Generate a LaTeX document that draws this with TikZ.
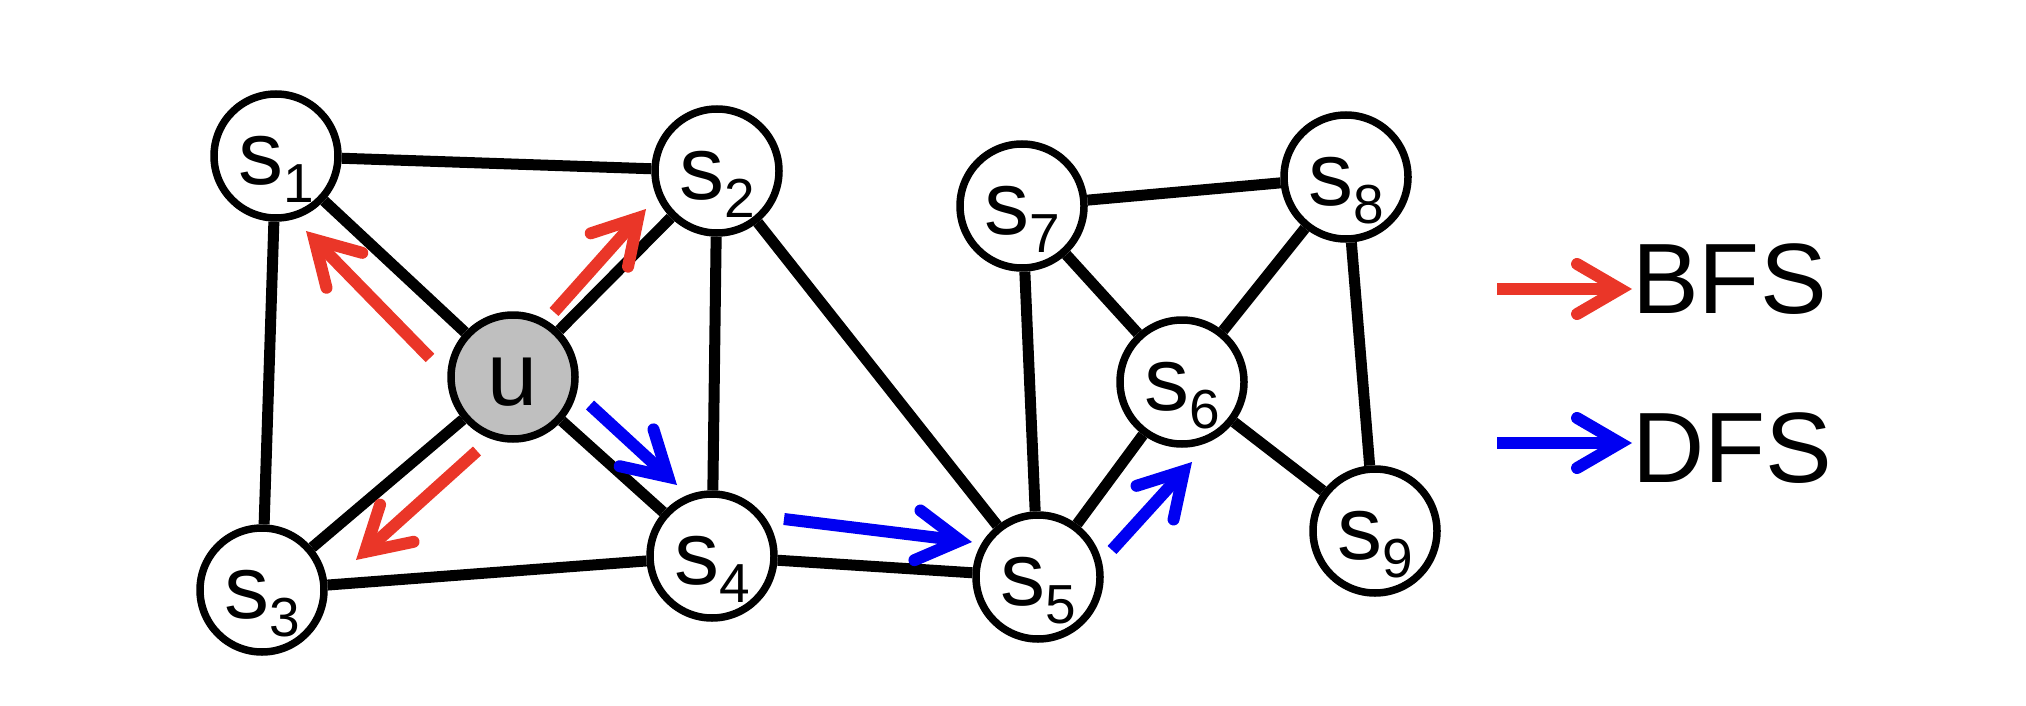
\documentclass[tikz,border=0pt]{standalone}
\usepackage{fontspec}
\setmainfont{Liberation Sans}
\usetikzlibrary{arrows.meta}

\definecolor{bfsred}{RGB}{234,54,40}
\definecolor{dfsblue}{RGB}{0,0,242}
\definecolor{ugray}{RGB}{191,191,191}

% vertex label: letter with a lowered index
\newcommand{\vlab}[2]{#1\raisebox{-18pt}{\fontsize{55}{55}\selectfont #2}}

\tikzset{
  vertex/.style={circle, draw=black, line width=7.5pt, fill=white,
    minimum size=124pt, inner sep=0pt, text height=60pt, text depth=4pt,
    font=\fontsize{90}{90}\selectfont},
  edge/.style={line width=11pt, black},
  travhead/.style={-{Straight Barb[length=43pt, width=50pt, line cap=round, line join=miter]}},
  bfsarrow/.style={travhead, line width=12pt, draw=bfsred},
  dfsarrow/.style={travhead, line width=12pt, draw=dfsblue},
  legendtext/.style={inner sep=0pt, anchor=base west, font=\fontsize{100}{100}\selectfont},
}

\begin{document}
\begin{tikzpicture}[x=1pt, y=-1pt]
  \path[use as bounding box] (0,0) rectangle (2026,706);

  % vertices
  \node[vertex] (s1) at (276,156) {\vlab{s}{1}};
  \node[vertex] (s2) at (717,171) {\vlab{s}{2}};
  \node[vertex, fill=ugray] (u) at (513,377) {u};
  \node[vertex] (s3) at (262,590) {\vlab{s}{3}};
  \node[vertex] (s4) at (712,556) {\vlab{s}{4}};
  \node[vertex] (s5) at (1038,577) {\vlab{s}{5}};
  \node[vertex] (s6) at (1182,382) {\vlab{s}{6}};
  \node[vertex] (s7) at (1022,206) {\vlab{s}{7}};
  \node[vertex] (s8) at (1346,177) {\vlab{s}{8}};
  \node[vertex] (s9) at (1375,531) {\vlab{s}{9}};

  % edges
  \draw[edge] (s1) -- (s2);
  \draw[edge] (s1) -- (u);
  \draw[edge] (s1) -- (s3);
  \draw[edge] (u) -- (s2);
  \draw[edge] (u) -- (s3);
  \draw[edge] (u) -- (s4);
  \draw[edge] (s2) -- (s4);
  \draw[edge] (s2) -- (s5);
  \draw[edge] (s3) -- (s4);
  \draw[edge] (s4) -- (s5);
  \draw[edge] (s5) -- (s7);
  \draw[edge] (s5) -- (s6);
  \draw[edge] (s7) -- (s6);
  \draw[edge] (s7) -- (s8);
  \draw[edge] (s8) -- (s6);
  \draw[edge] (s8) -- (s9);
  \draw[edge] (s6) -- (s9);

  % breadth-first steps out of u
  \coordinate (a1t) at (430,358); \coordinate (a1h) at (306,231);
  \coordinate (a2t) at (554,312); \coordinate (a2h) at (646,209);
  \coordinate (a3t) at (477,451); \coordinate (a3h) at (356,560);
  \draw[bfsarrow] (a1t) -- (a1h);
  \draw[bfsarrow] (a2t) -- (a2h);
  \draw[bfsarrow] (a3t) -- (a3h);

  % depth-first path u -> s4 -> s5 -> s6
  \coordinate (b1t) at (590,405);  \coordinate (b1h) at (677,485);
  \coordinate (b2t) at (784,519);  \coordinate (b2h) at (972,542);
  \coordinate (b3t) at (1112,550); \coordinate (b3h) at (1192,462);
  \draw[dfsarrow] (b1t) -- (b1h);
  \draw[dfsarrow] (b2t) -- (b2h);
  \draw[dfsarrow] (b3t) -- (b3h);

  % legend
  \node[legendtext] (bfs) at (1632,313) {BFS};
  \node[legendtext] (dfs) at (1632,482) {DFS};
  \coordinate (bfstail) at (1497,289);
  \coordinate (dfstail) at (1497,443);
  \draw[bfsarrow] (bfstail) -- (bfstail -| bfs.west);
  \draw[dfsarrow] (dfstail) -- (dfstail -| dfs.west);
\end{tikzpicture}
\end{document}
